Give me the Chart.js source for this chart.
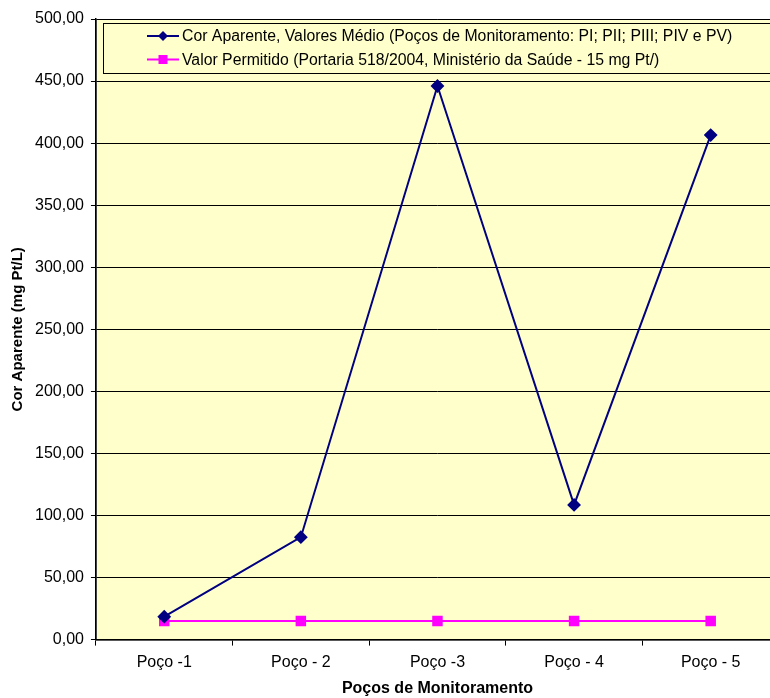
<!DOCTYPE html>
<html>
<head>
<meta charset="utf-8">
<script src="https://cdn.jsdelivr.net/npm/chart.js@4.4.1/dist/chart.umd.min.js"></script>
<style>
  html, body { margin: 0; padding: 0; background: #fff; overflow: hidden; }
  #wrap { width: 770px; height: 698px; overflow: hidden; }
</style>
</head>
<body>
<div id="wrap"><canvas id="c" width="787" height="698"></canvas></div>
<script>
const categories = ['Poço -1', 'Poço - 2', 'Poço -3', 'Poço - 4', 'Poço - 5'];
const corAparente = [18.5, 82.5, 446, 108.5, 406.5];
const valorPermitido = [15, 15, 15, 15, 15];
const labelCor = 'Cor Aparente, Valores Médio (Poços de Monitoramento: PI; PII; PIII; PIV e PV)';
const labelPermitido = 'Valor Permitido (Portaria 518/2004, Ministério da Saúde - 15 mg Pt/)';

const FONT = 'Arial, "Liberation Sans", sans-serif';

// fundo amarelo da área do gráfico (a área passa um pouco da borda direita, como no original)
const plotBg = {
  id: 'plotBg',
  beforeDraw(chart) {
    const { ctx, chartArea: a } = chart;
    ctx.save();
    ctx.fillStyle = '#FFFFCC';
    ctx.fillRect(a.left, a.top, a.right - a.left, a.bottom - a.top);
    ctx.strokeStyle = '#808080';
    ctx.lineWidth = 1;
    ctx.strokeRect(a.left + 0.5, a.top + 0.5, a.right - a.left - 1, a.bottom - a.top);
    ctx.restore();
  }
};

// legenda dentro da área, com caixa
const boxLegend = {
  id: 'boxLegend',
  afterDatasetsDraw(chart) {
    const { ctx } = chart;
    const x = 103, y = 23, w = 690, h = 50;
    ctx.save();
    ctx.fillStyle = '#FFFFCC';
    ctx.fillRect(x, y, w, h);
    ctx.strokeStyle = '#000';
    ctx.lineWidth = 1;
    ctx.strokeRect(x + 0.5, y + 0.5, w, h);
    ctx.font = '15.8px ' + FONT;
    ctx.textBaseline = 'middle';
    chart.data.datasets.forEach((ds, i) => {
      const cy = 36 + i * 23.5;
      ctx.strokeStyle = ds.borderColor;
      ctx.lineWidth = 2;
      ctx.beginPath();
      ctx.moveTo(147, cy);
      ctx.lineTo(179, cy);
      ctx.stroke();
      ctx.fillStyle = ds.pointBackgroundColor;
      ctx.beginPath();
      if (ds.pointStyle === 'rectRot') {
        ctx.moveTo(163, cy - 5); ctx.lineTo(168, cy); ctx.lineTo(163, cy + 5); ctx.lineTo(158, cy);
      } else {
        ctx.rect(158.5, cy - 4.5, 9, 9);
      }
      ctx.fill();
      ctx.fillStyle = '#000';
      ctx.fillText(ds.label, 182, cy + 1);
    });
    ctx.restore();
  }
};

new Chart(document.getElementById('c'), {
  type: 'line',
  data: {
    labels: categories,
    datasets: [
      {
        label: labelCor,
        data: corAparente,
        borderColor: '#000080',
        backgroundColor: '#000080',
        pointBackgroundColor: '#000080',
        pointBorderColor: '#000080',
        borderWidth: 2,
        pointStyle: 'rectRot',
        pointRadius: 5.5,
        tension: 0
      },
      {
        label: labelPermitido,
        data: valorPermitido,
        borderColor: '#FF00FF',
        backgroundColor: '#FF00FF',
        pointBackgroundColor: '#FF00FF',
        pointBorderColor: '#FF00FF',
        borderWidth: 2,
        pointStyle: 'rect',
        pointRadius: 6,
        tension: 0
      }
    ]
  },
  options: {
    responsive: false,
    animation: false,
    layout: { padding: { top: 19, right: 2, left: 9, bottom: 0 } },
    plugins: {
      legend: { display: false },
      tooltip: { enabled: false }
    },
    scales: {
      x: {
        offset: true,
        grid: {
          offset: true,
          drawOnChartArea: false,
          color: '#000',
          tickLength: 6,
          tickColor: '#000'
        },
        border: { color: '#000', width: 1.5 },
        ticks: { color: '#000', font: { family: FONT, size: 16 }, padding: 7 },
        title: {
          display: true,
          text: 'Poços de Monitoramento',
          color: '#000',
          font: { family: FONT, size: 16, weight: 'bold' },
          padding: { top: 0, bottom: 0 }
        }
      },
      y: {
        min: 0,
        max: 500,
        ticks: {
          stepSize: 50,
          color: '#000',
          font: { family: FONT, size: 16 },
          padding: 7,
          callback: v => v.toFixed(2).replace('.', ',')
        },
        grid: { color: '#000', tickLength: 5, tickColor: '#000' },
        border: { color: '#000', width: 1.5 },
        title: {
          display: true,
          text: 'Cor Aparente (mg Pt/L)',
          color: '#000',
          font: { family: FONT, size: 15, weight: 'bold' },
          padding: { top: 0, bottom: 1 }
        }
      }
    }
  },
  plugins: [plotBg, boxLegend]
});
</script>
</body>
</html>
